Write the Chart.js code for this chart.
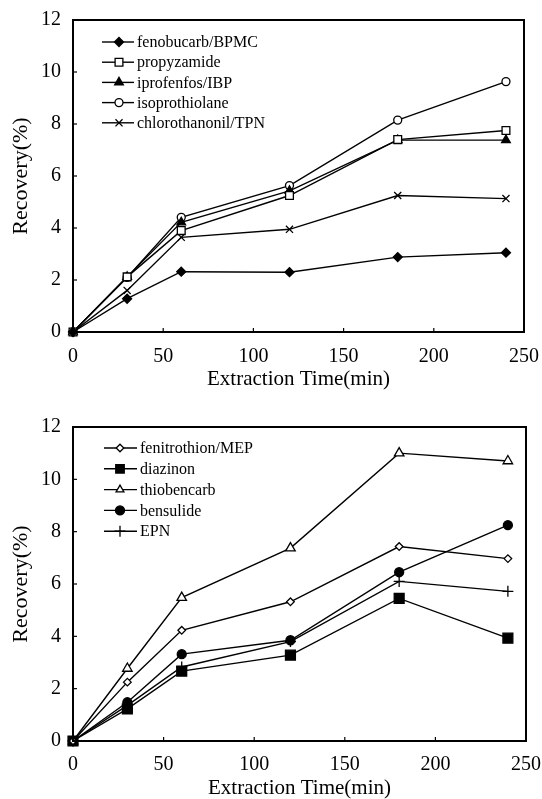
<!DOCTYPE html>
<html>
<head>
<meta charset="utf-8">
<script src="https://cdn.jsdelivr.net/npm/chart.js@4.4.1/dist/chart.umd.min.js"></script>
<style>
  html, body { margin: 0; padding: 0; background: #fff; }
  #c1 { position: absolute; left: 0; top: 0; }
  #c2 { position: absolute; left: 0; top: 400px; }
</style>
</head>
<body>
<canvas id="c1" width="542" height="400"></canvas>
<canvas id="c2" width="542" height="399"></canvas>
<script>
// ---- Data ----
const times = [0, 30, 60, 120, 180, 240];
const xTicks = [0, 50, 100, 150, 200, 250];
const yTicks = [0, 2, 4, 6, 8, 10, 12];

// Top panel
const fenobucarb     = [0, 1.28, 2.32, 2.30, 2.88, 3.05];
const propyzamide    = [0, 2.12, 3.90, 5.25, 7.40, 7.75];
const iprofenfos     = [0, 2.12, 4.22, 5.43, 7.38, 7.38];
const isoprothiolane = [0, 2.10, 4.41, 5.63, 8.15, 9.63];
const chlorothalonil = [0, 1.60, 3.64, 3.95, 5.25, 5.13];

// Bottom panel
const fenitrothion = [0, 2.25, 4.23, 5.32, 7.43, 6.97];
const diazinon     = [0, 1.23, 2.67, 3.28, 5.45, 3.93];
const thiobencarb  = [0, 2.77, 5.48, 7.37, 11.0, 10.70];
const bensulide    = [0, 1.48, 3.32, 3.85, 6.45, 8.25];
const EPN          = [0, 1.36, 2.83, 3.80, 6.10, 5.72];

const topLabels = ['fenobucarb/BPMC', 'propyzamide', 'iprofenfos/IBP', 'isoprothiolane', 'chlorothanonil/TPN'];
const botLabels = ['fenitrothion/MEP', 'diazinon', 'thiobencarb', 'bensulide', 'EPN'];

const FONT = '"Liberation Serif", "Times New Roman", serif';

function pts(arr) { return arr.map((v, i) => ({ x: times[i], y: v })); }

function ds(label, arr, style, radius, filled, lr) {
  return {
    label: label,
    data: pts(arr),
    borderColor: '#000',
    borderWidth: 1.4,
    backgroundColor: filled ? '#000' : '#fff',
    pointStyle: style,
    pointRadius: radius,
    pointHoverRadius: radius,
    legendRadius: lr || radius,
    pointBorderColor: '#000',
    pointBackgroundColor: filled ? '#000' : '#fff',
    pointBorderWidth: 1.3,
    tension: 0,
    fill: false,
    clip: false
  };
}

function boxPlugin(legendCfg) {
  return {
    id: 'boxAndLegend',
    afterDraw(chart) {
      const ctx = chart.ctx;
      const a = chart.chartArea;
      ctx.save();
      ctx.strokeStyle = '#000';
      ctx.lineWidth = 2;
      ctx.strokeRect(a.left, a.top, a.right - a.left, a.bottom - a.top);
      // inward tick marks
      ctx.lineWidth = 1.2;
      const xs = chart.scales.x, ys = chart.scales.y;
      xTicks.forEach(t => {
        const px = xs.getPixelForValue(t);
        ctx.beginPath(); ctx.moveTo(px, a.bottom); ctx.lineTo(px, a.bottom - 4); ctx.stroke();
      });
      yTicks.forEach(t => {
        const py = ys.getPixelForValue(t);
        ctx.beginPath(); ctx.moveTo(a.left, py); ctx.lineTo(a.left + 4, py); ctx.stroke();
      });
      // legend
      ctx.font = '16px ' + FONT;
      ctx.textBaseline = 'middle';
      ctx.fillStyle = '#000';
      chart.data.datasets.forEach((d, i) => {
        const y = legendCfg.y0 + i * legendCfg.dy;
        ctx.lineWidth = 1.4;
        ctx.strokeStyle = '#000';
        ctx.beginPath(); ctx.moveTo(legendCfg.x0, y); ctx.lineTo(legendCfg.x1, y); ctx.stroke();
        const opts = {
          pointStyle: d.pointStyle, radius: d.legendRadius, rotation: 0,
          borderWidth: 1.3
        };
        ctx.fillStyle = d.pointBackgroundColor;
        ctx.strokeStyle = '#000';
        ctx.lineWidth = 1.3;
        Chart.helpers.drawPoint(ctx, opts, legendCfg.xm, y);
        ctx.fillStyle = '#000';
        ctx.fillText(d.label, legendCfg.xt, y + 1);
      });
      ctx.restore();
    }
  };
}

function makeChart(id, datasets, cfg) {
  return new Chart(document.getElementById(id), {
    type: 'line',
    data: { datasets: datasets },
    options: {
      responsive: false,
      animation: false,
      events: [],
      layout: { padding: { top: cfg.top, right: cfg.right, left: 0, bottom: 0 } },
      plugins: { legend: { display: false }, tooltip: { enabled: false } },
      scales: {
        x: {
          type: 'linear', min: 0, max: 250,
          afterFit: s => { s.height = cfg.xh; s.paddingLeft = 0; s.paddingRight = 0; },
          grid: { display: false, drawTicks: false },
          border: { display: false },
          ticks: { stepSize: 50, color: '#000', padding: cfg.xpad,
                   font: { family: FONT, size: 20 } },
          afterBuildTicks: s => { s.ticks = xTicks.map(v => ({ value: v })); },
          title: { display: true, text: 'Extraction Time(min)', color: '#000',
                   font: { family: FONT, size: 21, lineHeight: 1.0 },
                   padding: { top: 0, bottom: cfg.xtpad } }
        },
        y: {
          type: 'linear', min: 0, max: 12,
          afterFit: s => { s.width = 73; s.paddingTop = 0; s.paddingBottom = 0; },
          grid: { display: false, drawTicks: false },
          border: { display: false },
          ticks: { stepSize: 2, color: '#000', padding: 12,
                   font: { family: FONT, size: 20 } },
          afterBuildTicks: s => { s.ticks = yTicks.map(v => ({ value: v })); },
          title: { display: true, text: 'Recovery(%)', color: '#000',
                   font: { family: FONT, size: 22, lineHeight: 1.0 },
                   padding: { top: 10, bottom: 0 } }
        }
      }
    },
    plugins: [boxPlugin(cfg.legend)]
  });
}

makeChart('c1', [
  ds(topLabels[0], fenobucarb, 'rectRot', 4.5, true),
  ds(topLabels[1], propyzamide, 'rect', 5.5, false),
  ds(topLabels[2], iprofenfos, 'triangle', 5, true),
  ds(topLabels[3], isoprothiolane, 'circle', 4, false),
  ds(topLabels[4], chlorothalonil, 'crossRot', 5, false)
], { top: 20, right: 18, xh: 68, xpad: 13, xtpad: 10,
     legend: { y0: 42, dy: 20.2, x0: 102, x1: 134, xm: 119, xt: 137 } });

makeChart('c2', [
  ds(botLabels[0], fenitrothion, 'rectRot', 3.8, false),
  ds(botLabels[1], diazinon, 'rect', 7, true, 6),
  ds(botLabels[2], thiobencarb, 'triangle', 5.5, false, 4.5),
  ds(botLabels[3], bensulide, 'circle', 4.5, true),
  ds(botLabels[4], EPN, 'cross', 5.5, false)
], { top: 27, right: 16, xh: 58, xpad: 12, xtpad: 0,
     legend: { y0: 48, dy: 20.8, x0: 104, x1: 137, xm: 120, xt: 140 } });
</script>
</body>
</html>
